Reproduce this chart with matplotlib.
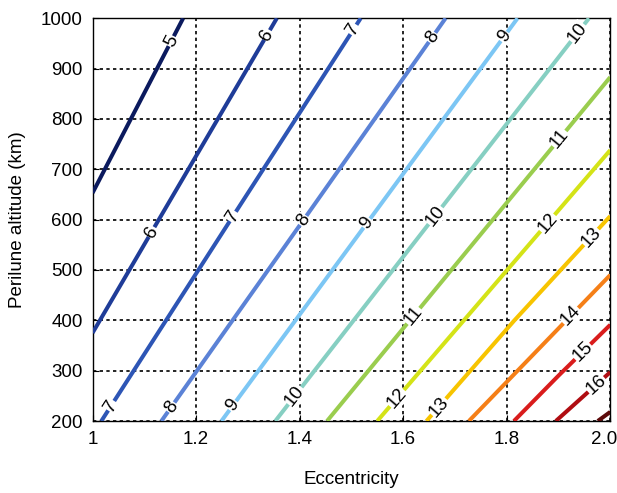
import numpy as np
import matplotlib.pyplot as plt
from matplotlib.transforms import ScaledTranslation

# contour levels and their lines (eccentricity, altitude km)
levels = [5, 6, 7, 8, 9, 10, 11, 12, 13, 14, 15, 16, 17]
line_x = [
    [1.000, 1.074, 1.175],
    [1.000, 1.128, 1.356],
    [1.017, 1.267, 1.518],
    [1.133, 1.408, 1.682],
    [1.249, 1.535, 1.821],
    [1.353, 1.656, 1.959],
    [1.453, 1.613, 2.000],
    [1.550, 1.801, 2.000],
    [1.645, 1.815, 2.000],
    [1.727, 1.840, 2.000],
    [1.814, 1.900, 2.000],
    [1.895, 2.000],
    [1.976, 2.000],
]
line_y = [
    [653, 800, 1000],
    [375, 600, 1000],
    [200, 600, 1000],
    [200, 600, 1000],
    [200, 600, 1000],
    [200, 600, 1000],
    [200, 400, 883],
    [200, 500, 738],
    [200, 400, 607],
    [200, 320, 490],
    [200, 290, 391],
    [200, 297],
    [200, 218],
]
# where the inline labels sit (eccentricity)
label_x = [
    [1.152],
    [1.337, 1.114],
    [1.504, 1.271, 1.036],
    [1.656, 1.407, 1.152],
    [1.795, 1.530, 1.271],
    [1.937, 1.662, 1.391],
    [1.902, 1.620],
    [1.879, 1.588],
    [1.963, 1.669],
    [1.924],
    [1.947],
    [1.973],
    [],
]
colors = ['#0b1a5e', '#1f3c98', '#2d55b5', '#5b82d6', '#7cc6f4', '#86cfc2',
          '#9acd4e', '#d4e317', '#f7c400', '#f57f17', '#d91c1c', '#b00d12',
          '#5c0a0a']

plt.rcParams['font.family'] = ['Liberation Sans', 'DejaVu Sans']

fig = plt.figure(figsize=(6.17, 4.93), dpi=100)
ax = fig.add_axes([0.150, 0.146, 0.839, 0.817])

ax.set_xlim(1.0, 2.0)
ax.set_ylim(200, 1000)
ax.set_xticks([1.0, 1.2, 1.4, 1.6, 1.8, 2.0])
ax.set_xticklabels(['1', '1.2', '1.4', '1.6', '1.8', '2.0'])
ax.set_yticks(np.arange(200, 1001, 100))
ax.tick_params(direction='in', length=4, labelsize=13.5, pad=7)
ax.grid(True, color='black', linestyle=(0, (2.0, 2.0)), linewidth=1.2)
ax.set_axisbelow(True)
for s in ax.spines.values():
    s.set_linewidth(1.0)
# last tick label sits a little to the left so it stays inside the figure
last = ax.get_xticklabels()[-1]
last.set_transform(last.get_transform() + ScaledTranslation(-6 / 100, 0, fig.dpi_scale_trans))

for lx, ly, c in zip(line_x, line_y, colors):
    ax.plot(lx, ly, color=c, linewidth=2.9, solid_capstyle='butt', zorder=3)

fig.canvas.draw()
for lev, lx, ly, labs in zip(levels, line_x, line_y, label_x):
    for xl in labs:
        yl = np.interp(xl, lx, ly)
        p0 = ax.transData.transform((xl - 0.01, np.interp(xl - 0.01, lx, ly)))
        p1 = ax.transData.transform((xl + 0.01, np.interp(xl + 0.01, lx, ly)))
        ang = np.degrees(np.arctan2(p1[1] - p0[1], p1[0] - p0[0]))
        ax.text(xl, yl, str(lev), fontsize=13.5, rotation=ang, rotation_mode='anchor',
                ha='center', va='center', zorder=4,
                bbox=dict(facecolor='white', edgecolor='none', pad=0.3))

ax.set_xlabel('Eccentricity', fontsize=13.5, labelpad=17)
ax.set_ylabel('Perilune altitude (km)', fontsize=13.5, labelpad=11)

plt.savefig('out.png', dpi=100)
